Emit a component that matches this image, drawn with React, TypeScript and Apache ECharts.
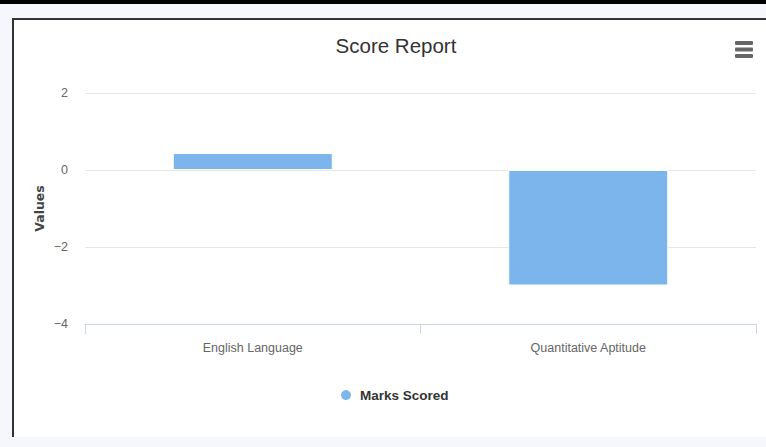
import React, { useEffect, useRef } from "react";
import * as echarts from "echarts";

const categories = ["English Language", "Quantitative Aptitude"];
const marksScored = [0.44, -3];
const yTicks = { min: -4, max: 2, interval: 2 };
const seriesName = "Marks Scored";
const titleText = "Score Report";
const yAxisName = "Values";

const FONT = "'Liberation Sans', Arial, sans-serif";

export default function App() {
  const ref = useRef<HTMLDivElement>(null);
  useEffect(() => {
    document.body.style.margin = "0";
    if (!ref.current) return;
    const chart = echarts.init(ref.current, undefined, { renderer: "svg" });
    chart.setOption({
      animation: false,
      backgroundColor: "transparent",
      textStyle: { fontFamily: FONT },
      title: {
        text: titleText,
        left: 391,
        textAlign: "center",
        top: 30,
        textStyle: { fontFamily: FONT, fontSize: 20.5, fontWeight: "normal", color: "#333" },
      },
      legend: {
        data: [{ name: seriesName, icon: "circle" }],
        top: 383,
        left: 334,
        itemWidth: 12,
        itemHeight: 12,
        itemGap: 8,
        textStyle: { fontFamily: FONT, fontSize: 13.5, fontWeight: "bold", color: "#333", padding: [0, 0, 0, 3] },
      },
      grid: { left: 85, right: 10, top: 93, bottom: 123, containLabel: false },
      xAxis: {
        type: "category",
        data: categories,
        axisLine: { onZero: false, lineStyle: { color: "#ccd6eb", width: 1 } },
        axisTick: { show: true, length: 10, lineStyle: { color: "#ccd6eb" } },
        axisLabel: { fontFamily: FONT, fontSize: 12.5, color: "#666", margin: 17 },
      },
      yAxis: {
        type: "value",
        min: yTicks.min,
        max: yTicks.max,
        interval: yTicks.interval,
        name: yAxisName,
        nameLocation: "middle",
        nameGap: 39,
        nameMoveOverlap: false,
        nameRotate: 90,
        nameTextStyle: { fontFamily: "'DejaVu Sans', sans-serif", fontSize: 12.5, fontWeight: "bold", color: "#444" },
        axisLine: { show: false },
        axisTick: { show: false },
        axisLabel: {
          fontFamily: FONT,
          fontSize: 12.5,
          color: "#666",
          margin: 17,
          formatter: (v: number) => (v < 0 ? "\u2212" + Math.abs(v) : String(v)),
        },
        splitLine: { lineStyle: { color: "#e6e6e6" } },
      },
      series: [
        {
          name: seriesName,
          type: "bar",
          data: marksScored,
          barWidth: 160,
          itemStyle: { color: "#7cb5ec", borderColor: "#ffffff", borderWidth: 1 },
        },
      ],
      graphic: [
        { type: "rect", shape: { x: 735, y: 41, width: 18, height: 4, r: 1 }, style: { fill: "#666" } },
        { type: "rect", shape: { x: 735, y: 47.5, width: 18, height: 4, r: 1 }, style: { fill: "#666" } },
        { type: "rect", shape: { x: 735, y: 54, width: 18, height: 4, r: 1 }, style: { fill: "#666" } },
      ],
    });
    return () => chart.dispose();
  }, []);

  return (
    <div style={{ position: "relative", width: 766, height: 447, background: "#f6f7fc", overflow: "hidden" }}>
      <div style={{ position: "absolute", left: 0, top: 0, width: 766, height: 4, background: "#000" }} />
      <div
        style={{
          position: "absolute",
          left: 12,
          top: 18,
          width: 800,
          height: 419,
          background: "#fff",
          borderLeft: "2px solid #333",
          borderTop: "2px solid #333",
          boxSizing: "border-box",
        }}
      />
      <div ref={ref} style={{ position: "absolute", left: 0, top: 0, width: 766, height: 447 }} />
    </div>
  );
}
